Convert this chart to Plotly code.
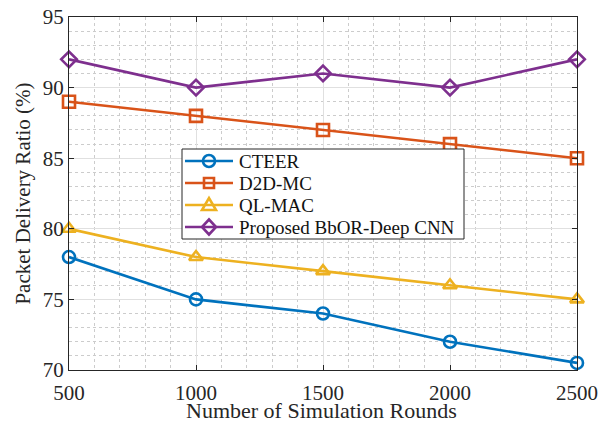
import plotly.graph_objects as go

rounds = [500, 1000, 1500, 2000, 2500]
cteer = [78, 75, 74, 72, 70.5]
d2d_mc = [89, 88, 87, 86, 85]
ql_mac = [80, 78, 77, 76, 75]
proposed = [92, 90, 91, 90, 92]

series = [
    ("CTEER", cteer, "#0072BD", "circle-open"),
    ("D2D-MC", d2d_mc, "#D95319", "square-open"),
    ("QL-MAC", ql_mac, "#EDB120", "triangle-up-open"),
    ("Proposed BbOR-Deep CNN", proposed, "#7E2F8E", "diamond-open"),
]

font_family = "Liberation Serif, Times New Roman, serif"

# plot-area geometry in pixels
W, H = 602, 425
L, R, T, B = 69, 25, 17, 55
PW, PH = W - L - R, H - T - B


def px(x, y):
    """Pixel position -> paper fraction of the plot area."""
    return (x - L) / PW, (H - B - y) / PH


fig = go.Figure()
for name, vals, color, sym in series:
    fig.add_trace(go.Scatter(
        x=rounds, y=vals, name=name, mode="lines+markers",
        line=dict(color=color, width=2.6),
        marker=dict(symbol=sym, size=12, color=color, line=dict(width=2.6, color=color)),
        cliponaxis=False, showlegend=False,
    ))

axis_common = dict(
    showline=True, linecolor="#262626", linewidth=1, mirror="ticks",
    ticks="inside", ticklen=5, tickcolor="#262626",
    showgrid=True, gridcolor="#e0e0e0", gridwidth=1,
    zeroline=False, automargin=False,
    tickfont=dict(family=font_family, size=21, color="#262626"),
)

fig.update_xaxes(
    range=[500, 2500], tickvals=[500, 1000, 1500, 2000, 2500],
    ticklabelstandoff=4,
    minor=dict(dtick=100, showgrid=True, gridcolor="#cccccc", griddash="dot", gridwidth=1),
    **axis_common,
)
fig.update_yaxes(
    range=[70, 95], tickvals=[70, 75, 80, 85, 90, 95],
    title=dict(text="Packet Delivery Ratio (%)", font=dict(family=font_family, size=21, color="#262626"), standoff=6),
    minor=dict(dtick=1, showgrid=True, gridcolor="#cccccc", griddash="dot", gridwidth=1),
    **axis_common,
)

shapes = []
annotations = []

# x-axis title placed below the tick labels, resting on the bottom edge
xt = px(321, H)
annotations.append(dict(text="Number of Simulation Rounds", xref="paper", yref="paper",
                        x=xt[0], y=xt[1], xanchor="center", yanchor="bottom", showarrow=False,
                        font=dict(family=font_family, size=22, color="#262626")))

# legend box drawn by hand so the row spacing stays compact
bx0, by0 = px(182, 149)
bx1, by1 = px(464, 239)
shapes.append(dict(type="rect", xref="paper", yref="paper", x0=bx0, y0=by1, x1=bx1, y1=by0,
                   line=dict(color="#262626", width=1), fillcolor="white", layer="above"))

row_y = [161, 183, 205, 227]
line_x0, line_x1, mark_x, text_x = 185, 233, 209, 237
for (name, _, color, sym), ry in zip(series, row_y):
    a0 = px(line_x0, ry)
    a1 = px(line_x1, ry)
    shapes.append(dict(type="line", xref="paper", yref="paper", x0=a0[0], y0=a0[1], x1=a1[0], y1=a1[1],
                       line=dict(color=color, width=2.6), layer="above"))
    s = 6
    if sym == "circle-open":
        p0 = px(mark_x - s, ry - s)
        p1 = px(mark_x + s, ry + s)
        shapes.append(dict(type="circle", xref="paper", yref="paper", x0=p0[0], y0=p1[1], x1=p1[0], y1=p0[1],
                           line=dict(color=color, width=2.6), fillcolor="rgba(0,0,0,0)", layer="above"))
    else:
        if sym == "square-open":
            pts = [(-5, -5), (5, -5), (5, 5), (-5, 5)]
        elif sym == "triangle-up-open":
            pts = [(-7, 5), (7, 5), (0, -7)]
        else:
            pts = [(0, -7.5), (7, 0), (0, 7.5), (-7, 0)]
        coords = [px(mark_x + dx, ry + dy) for dx, dy in pts]
        path = "M " + " L ".join(f"{cx:.5f},{cy:.5f}" for cx, cy in coords) + " Z"
        shapes.append(dict(type="path", xref="paper", yref="paper", path=path,
                           line=dict(color=color, width=2.6), fillcolor="rgba(0,0,0,0)", layer="above"))
    tx, ty = px(text_x, ry)
    annotations.append(dict(text=name, xref="paper", yref="paper", x=tx, y=ty,
                            xanchor="left", yanchor="middle", showarrow=False,
                            font=dict(family=font_family, size=19, color="#111111")))

fig.update_layout(
    width=W, height=H,
    margin=dict(l=L, r=R, t=T, b=B),
    paper_bgcolor="white", plot_bgcolor="white",
    showlegend=False,
    shapes=shapes, annotations=annotations,
)

fig.write_html("out.html")
